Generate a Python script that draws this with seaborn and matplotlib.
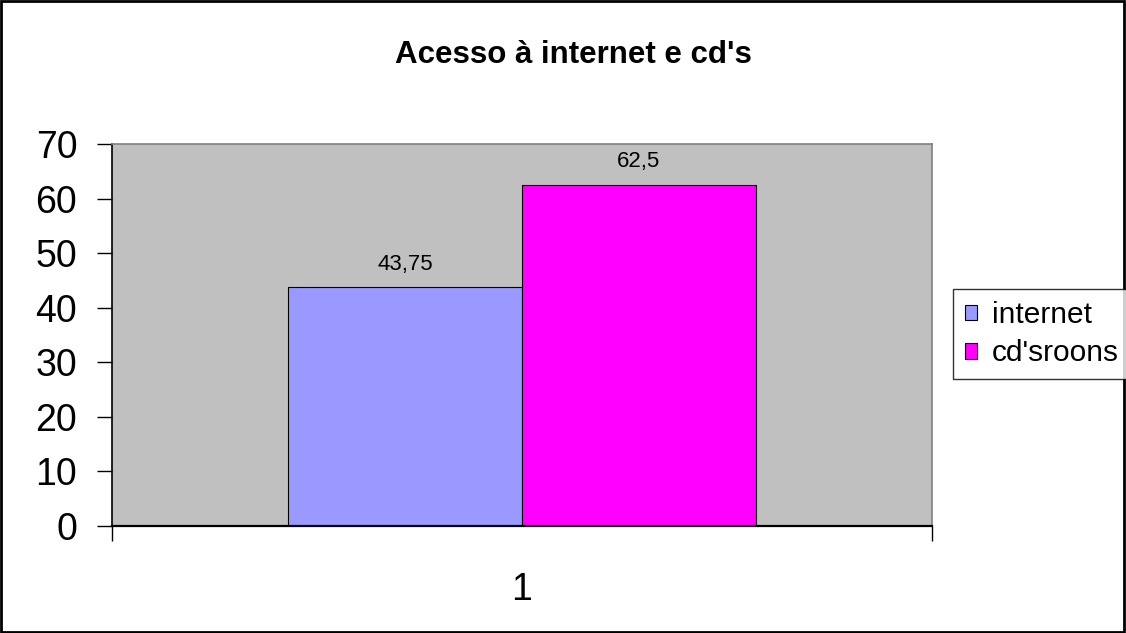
import pandas as pd
import numpy as np
import matplotlib.pyplot as plt
import seaborn as sns
from matplotlib.patches import Rectangle

categories = ["1"]
series = ["internet", "cd'sroons"]
values = [43.75, 62.5]
value_labels = ["43,75", "62,5"]
colors = ["#9999FF", "#FF00FF"]

df = pd.DataFrame({"cat": categories * len(series), "serie": series, "valor": values})

sns.set_style("white")
plt.rcParams['font.family'] = ['Liberation Sans', 'DejaVu Sans']
plt.rcParams['text.color'] = 'black'
plt.rcParams['xtick.color'] = 'black'
plt.rcParams['ytick.color'] = 'black'

fig = plt.figure(figsize=(11.26, 6.33), dpi=100)
ax = fig.add_axes([0.0995, 0.169, 0.728, 0.6035])
ax.set_facecolor("#C0C0C0")

sns.barplot(data=df, x="cat", y="valor", hue="serie", palette=colors, saturation=1,
            width=0.57, edgecolor="black", linewidth=0.8, ax=ax, legend=False)

for cont, lab in zip(ax.containers, value_labels):
    ax.bar_label(cont, labels=[lab], padding=9, fontsize=16, color="black")

ax.set_xlim(-0.5, 0.5)
ax.set_ylim(0, 70)
ax.set_yticks(range(0, 71, 10))
ax.tick_params(axis="y", labelsize=27, length=11, width=1, direction="out", left=True, pad=14)
ax.set_xticks([0])
ax.set_xticklabels(categories)
ax.set_xticks([-0.5, 0.5], minor=True)
ax.tick_params(axis="x", which="major", length=0, labelsize=27, pad=33)
ax.tick_params(axis="x", which="minor", length=11, width=1, direction="out", bottom=True)
ax.set_xlabel("")
ax.set_ylabel("")

ax.spines["left"].set_color("black")
ax.spines["left"].set_linewidth(1.2)
ax.spines["bottom"].set_color("black")
ax.spines["bottom"].set_linewidth(1.6)
for s in ["top", "right"]:
    ax.spines[s].set_color("#808080")
    ax.spines[s].set_linewidth(1.2)

fig.text(0.509, 0.913, "Acesso à internet e cd's", ha="center", va="center",
         fontsize=22.5, fontweight="bold", color="black")

handles = [Rectangle((0, 0), 1, 1, facecolor=c, edgecolor="black", linewidth=0.8) for c in colors]
leg = fig.legend(handles, series, loc="center left", bbox_to_anchor=(0.846, 0.472),
                 fontsize=21.5, frameon=True, fancybox=False, handlelength=0.42,
                 handleheight=0.42, handletextpad=0.5, borderpad=0.4, labelspacing=0.35,
                 borderaxespad=0)
leg.get_frame().set_edgecolor("black")
leg.get_frame().set_linewidth(1.0)
for t in leg.get_texts():
    t.set_color("black")

fig.patches.append(Rectangle((0.001, 0.002), 0.997, 0.996, transform=fig.transFigure,
                             fill=False, edgecolor="black", linewidth=2))

fig.savefig("out.png", dpi=100)
